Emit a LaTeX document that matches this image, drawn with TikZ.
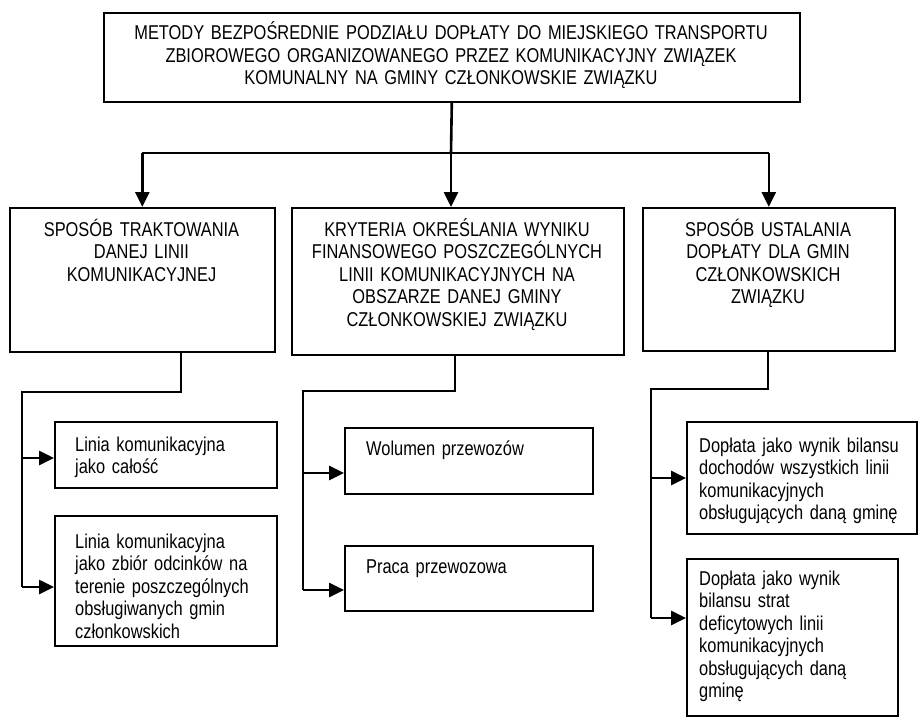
\documentclass[tikz,border=0pt]{standalone}
\usepackage{fontspec}
\setmainfont{Liberation Sans}[FakeStretch=0.82, WordSpace=0.7]
\usetikzlibrary{arrows.meta,positioning}

\tikzset{
  box/.style={draw, line width=1.6pt, inner sep=0pt, anchor=north west},
  capstxt/.style={inner sep=0pt, anchor=base, align=center, font=\fontsize{20}{22.5}\selectfont},
  subtxt/.style={inner sep=0pt, anchor=base west, align=left, text width=240pt, font=\fontsize{20}{22.5}\selectfont},
  conn/.style={line width=2.6pt},
  arr/.style={-{Triangle[length=15pt,width=14pt]}}
}

\begin{document}
\begin{tikzpicture}[x=1pt, y=-1pt]
			%%%%% START %%%%%
			\useasboundingbox (0,0) rectangle (918,717);
			
			% header
			\node[box, minimum width=696, minimum height=89] (top) at (103,12) {};
			\node[capstxt, text width=690] (toptxt) at (451,40) {METODY BEZPOŚREDNIE PODZIAŁU DOPŁATY DO MIEJSKIEGO TRANSPORTU\\ZBIOROWEGO ORGANIZOWANEGO PRZEZ KOMUNIKACYJNY ZWIĄZEK\\KOMUNALNY NA GMINY CZŁONKOWSKIE ZWIĄZKU};
			
			% second row
			\node[box, minimum width=265, minimum height=144] (b1) at (9,207) {};
			\node[box, minimum width=332, minimum height=147] (b2) at (291,207) {};
			\node[box, minimum width=252, minimum height=143] (b3) at (642,207) {};
			\node[capstxt, text width=260] (b1txt) at (141.5,236) {SPOSÓB TRAKTOWANIA\\DANEJ LINII\\KOMUNIKACYJNEJ};
			\node[capstxt, text width=326] (b2txt) at (457,236) {KRYTERIA OKREŚLANIA WYNIKU\\FINANSOWEGO POSZCZEGÓLNYCH\\LINII KOMUNIKACYJNYCH NA\\OBSZARZE DANEJ GMINY\\CZŁONKOWSKIEJ ZWIĄZKU};
			\node[capstxt, text width=246] (b3txt) at (768,236) {SPOSÓB USTALANIA\\DOPŁATY DLA GMIN\\CZŁONKOWSKICH\\ZWIĄZKU};
			
			% third row
			\node[box, minimum width=222, minimum height=66] (s11) at (54,421) {};
			\node[box, minimum width=222, minimum height=130] (s12) at (54,515) {};
			\node[box, minimum width=248, minimum height=66] (s21) at (344,427) {};
			\node[box, minimum width=248, minimum height=65] (s22) at (344,545) {};
			\node[box, minimum width=230, minimum height=112] (s31) at (686,421) {};
			\node[box, minimum width=211, minimum height=157] (s32) at (686,558) {};
			
			\node[subtxt] (s11txt) at (75,451) {Linia komunikacyjna\\jako całość};
			\node[subtxt] (s12txt) at (75,548) {Linia komunikacyjna\\jako zbiór odcinków na\\terenie poszczególnych\\obsługiwanych gmin\\członkowskich};
			\node[subtxt] (s21txt) at (366,455) {Wolumen przewozów};
			\node[subtxt] (s22txt) at (366,573) {Praca przewozowa};
			\node[subtxt] (s31txt) at (699,452) {Dopłata jako wynik bilansu\\dochodów wszystkich linii\\komunikacyjnych\\obsługujących daną gminę};
			\node[subtxt] (s32txt) at (699,585) {Dopłata jako wynik\\bilansu strat\\deficytowych linii\\komunikacyjnych\\obsługujących daną\\gminę};
			
			% header to second row
			\coordinate (bus) at (451,153);
			\draw[conn] (top.south) -- (bus);
			\draw[conn] (b1.north |- bus) -- (b3.north |- bus);
			\draw[conn,arr] (bus) -- (bus |- b2.north);
			\draw[conn,arr] (b1.north |- bus) -- (b1.north);
			\draw[conn,arr] (b3.north |- bus) -- (b3.north);
			
			% left branch
			\coordinate (e1) at (181,392);
			\coordinate (v1) at (22,392);
			\coordinate (a11) at (22,458);
			\coordinate (a12) at (22,587);
			\draw[conn] (e1 |- b1.south) -- (e1) -- (v1) -- (a12);
			\draw[conn,arr] (a11) -- (a11 -| s11.west);
			\draw[conn,arr] (a12) -- (a12 -| s12.west);
			
			% middle branch
			\coordinate (e2) at (455,391);
			\coordinate (v2) at (303,391);
			\coordinate (a21) at (303,473);
			\coordinate (a22) at (303,590);
			\draw[conn] (e2 |- b2.south) -- (e2) -- (v2) -- (a22);
			\draw[conn,arr] (a21) -- (a21 -| s21.west);
			\draw[conn,arr] (a22) -- (a22 -| s22.west);
			
			% right branch
			\coordinate (e3) at (768,389);
			\coordinate (v3) at (651,389);
			\coordinate (a31) at (651,478);
			\coordinate (a32) at (651,618);
			\draw[conn] (e3 |- b3.south) -- (e3) -- (v3) -- (a32);
			\draw[conn,arr] (a31) -- (a31 -| s31.west);
			\draw[conn,arr] (a32) -- (a32 -| s32.west);
			
			%%%%% END %%%%%
\end{tikzpicture}
\end{document}
